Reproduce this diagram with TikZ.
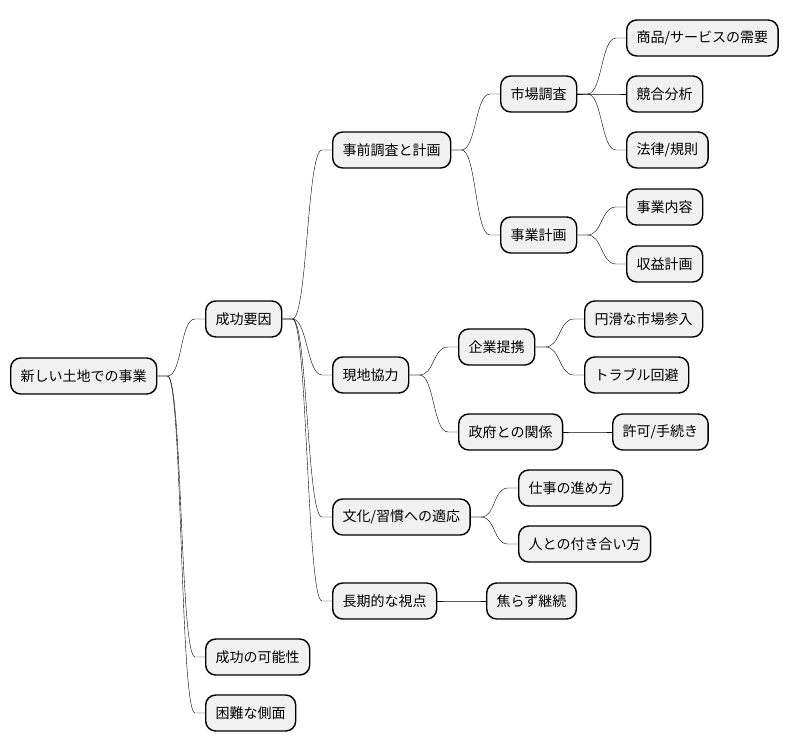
\documentclass[tikz,border=0pt]{standalone}
\usepackage{fontspec}
\newfontfamily\cjk{Noto Sans CJK JP}
\usepackage{tikz}
\usetikzlibrary{calc}

\definecolor{boxfill}{HTML}{F1F1F1}

\tikzset{
  box/.style={draw, line width=1.4pt, rounded corners=10pt, fill=boxfill,
    anchor=west, minimum height=36pt, inner xsep=10pt, inner ysep=0pt,
    font=\cjk\fontsize{14}{16}\selectfont},
  branch/.style={line width=0.9pt, to path={-- ++(10pt,0) .. controls +(15pt,0) and +(-15pt,0)
    .. ($(\tikztotarget)+(-10pt,0)$) -- (\tikztotarget)}},
}

\begin{document}
\begin{tikzpicture}[x=1pt, y=-1pt]
    \useasboundingbox (0,0) rectangle (787,752);

    % root and first level
    \node[box] (root) at (10,376) {新しい土地での事業};
    \node[box] (kf) at (205,319) {成功要因};
    \node[box] (chance) at (205,657) {成功の可能性};
    \node[box] (hard) at (205,713) {困難な側面};

    % success factors
    \node[box] (prep) at (332,150) {事前調査と計画};
    \node[box] (local) at (332,375) {現地協力};
    \node[box] (culture) at (332,517) {文化/習慣への適応};
    \node[box] (longterm) at (332,601) {長期的な視点};

    % third level
    \node[box] (survey) at (500,94) {市場調査};
    \node[box] (plan) at (500,235) {事業計画};
    \node[box] (partner) at (458,347) {企業提携};
    \node[box] (gov) at (458,432) {政府との関係};
    \node[box] (work) at (518,488) {仕事の進め方};
    \node[box] (people) at (518,544) {人との付き合い方};
    \node[box] (keep) at (486,601) {焦らず継続};

    % leaves
    \node[box] (demand) at (626,38) {商品/サービスの需要};
    \node[box] (rival) at (626,94) {競合分析};
    \node[box] (law) at (626,150) {法律/規則};
    \node[box] (content) at (626,207) {事業内容};
    \node[box] (profit) at (626,264) {収益計画};
    \node[box] (entry) at (584,319) {円滑な市場参入};
    \node[box] (trouble) at (584,375) {トラブル回避};
    \node[box] (permit) at (612,432) {許可/手続き};

    % connectors
    \draw (root.east) to[branch] (kf.west);
    \draw (root.east) to[branch] (chance.west);
    \draw (root.east) to[branch] (hard.west);
    \draw (kf.east) to[branch] (prep.west);
    \draw (kf.east) to[branch] (local.west);
    \draw (kf.east) to[branch] (culture.west);
    \draw (kf.east) to[branch] (longterm.west);
    \draw (prep.east) to[branch] (survey.west);
    \draw (prep.east) to[branch] (plan.west);
    \draw (local.east) to[branch] (partner.west);
    \draw (local.east) to[branch] (gov.west);
    \draw (culture.east) to[branch] (work.west);
    \draw (culture.east) to[branch] (people.west);
    \draw (longterm.east) to[branch] (keep.west);
    \draw (survey.east) to[branch] (demand.west);
    \draw (survey.east) to[branch] (rival.west);
    \draw (survey.east) to[branch] (law.west);
    \draw (plan.east) to[branch] (content.west);
    \draw (plan.east) to[branch] (profit.west);
    \draw (partner.east) to[branch] (entry.west);
    \draw (partner.east) to[branch] (trouble.west);
    \draw (gov.east) to[branch] (permit.west);
\end{tikzpicture}
\end{document}
